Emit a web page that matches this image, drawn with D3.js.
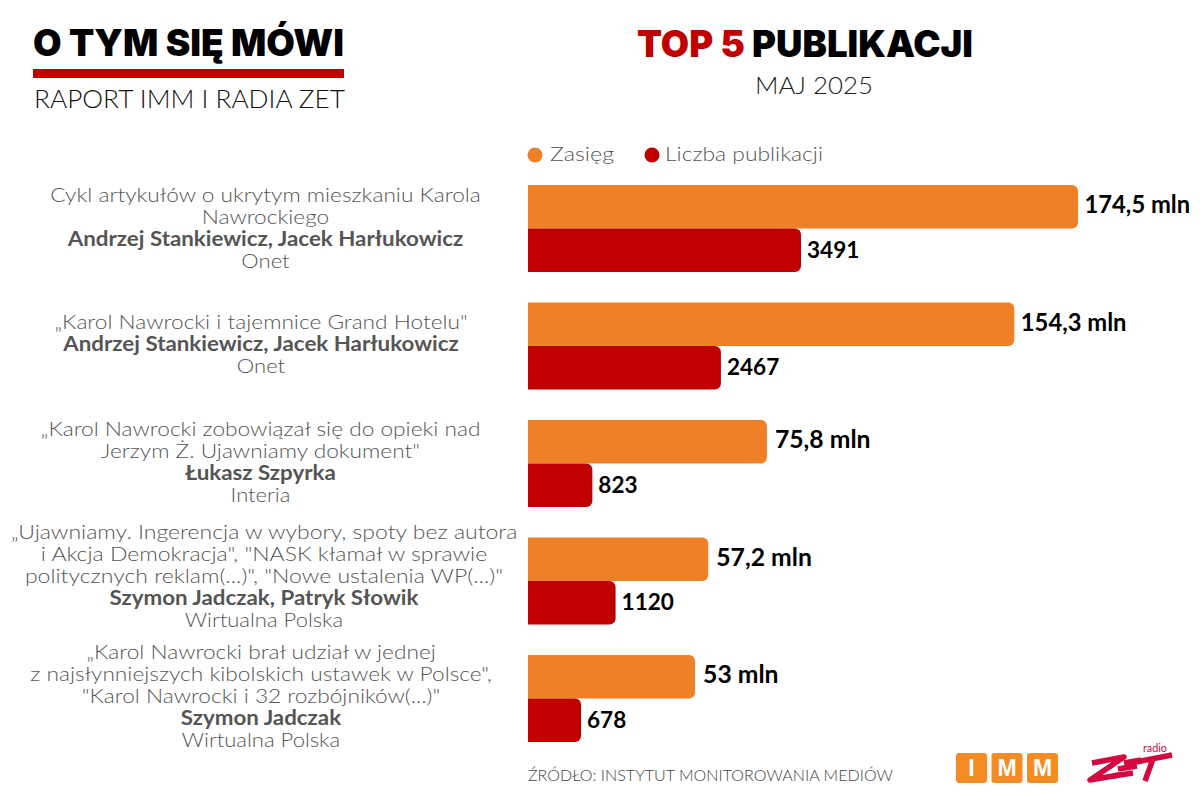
<!DOCTYPE html>
<html><head><meta charset="utf-8">
<script src="https://cdn.jsdelivr.net/npm/d3@7/dist/d3.min.js"></script>
<style>html,body{margin:0;background:#fff}svg{display:block}</style></head>
<body><svg id="c" width="1200" height="800"></svg>
<script>
const rankNames = ["1","2","3","4","5"];
const reachValues = [174.5,154.3,75.8,57.2,53];
const reachLabels = ["174,5 mln","154,3 mln","75,8 mln","57,2 mln","53 mln"];
const pubValues = [3491,2467,823,1120,678];
const pubLabels = ["3491","2467","823","1120","678"];
const titleLines = [
 ["Cykl artykułów o ukrytym mieszkaniu Karola","Nawrockiego"],
 ["„Karol Nawrocki i tajemnice Grand Hotelu\""],
 ["„Karol Nawrocki zobowiązał się do opieki nad","Jerzym Ż. Ujawniamy dokument\""],
 ["„Ujawniamy. Ingerencja w wybory, spoty bez autora","i Akcja Demokracja\", \"NASK kłamał w sprawie","politycznych reklam(...)\", \"Nowe ustalenia WP(...)\""],
 ["„Karol Nawrocki brał udział w jednej","z najsłynniejszych kibolskich ustawek w Polsce\",","\"Karol Nawrocki i 32 rozbójników(...)\""]
];
const authors = ["Andrzej Stankiewicz, Jacek Harłukowicz","Andrzej Stankiewicz, Jacek Harłukowicz","Łukasz Szpyrka","Szymon Jadczak, Patryk Słowik","Szymon Jadczak"];
const outlets = ["Onet","Onet","Interia","Wirtualna Polska","Wirtualna Polska"];
const legendNames = ["Zasięg","Liczba publikacji"];
const labelCx = [265.5,261,260.5,264,261];

const ORANGE="#ee8127", RED="#c00000", GREY="#555", BODY="Lato, sans-serif";
const svg=d3.select("#c");
const x0=528;
const xR=d3.scaleLinear().domain([0,174.5]).range([x0,1078]);
const xP=d3.scaleLinear().domain([0,3491]).range([x0,801]);
const y=d3.scaleBand().domain(rankNames).range([185,772.5]);
const barH=43.5, R=6;
function bar(x,yy,w,h){return `M${x},${yy}H${x+w-R}a${R},${R} 0 0 1 ${R},${R}V${yy+h-R}a${R},${R} 0 0 1 ${-R},${R}H${x}Z`;}

function t(x,yy,s,o){const e=svg.append("text").attr("x",x).attr("y",yy).text(s)
 .attr("font-family",o.f||BODY).attr("font-size",o.s).attr("font-weight",o.w||400).attr("fill",o.c||"#000").attr("text-anchor",o.a||"start");
 if(o.l)e.attr("textLength",o.l).attr("lengthAdjust","spacingAndGlyphs");
 if(o.k)e.attr("textLength",e.node().getComputedTextLength()*o.k).attr("lengthAdjust","spacingAndGlyphs");
 return e;}

// header
t(33,56,"O TYM SIĘ MÓWI",{f:"Inter, sans-serif",s:37,w:900,l:311});
svg.append("rect").attr("x",33).attr("y",69).attr("width",311).attr("height",9).attr("fill",RED);
t(34,108,"RAPORT IMM I RADIA ZET",{s:26,w:300,c:"#111",l:311});
const h=t(637,57,"",{f:"Inter, sans-serif",s:37,w:900,l:336});
h.append("tspan").attr("fill",RED).text("TOP 5 ");
h.append("tspan").text("PUBLIKACJI");
t(814,94,"MAJ 2025",{s:24,w:300,c:"#222",a:"middle",l:118});

// legend
const lx=[535,652], ltx=[550,665], ll=[64,158];
legendNames.forEach((n,i)=>{
 svg.append("circle").attr("cx",lx[i]).attr("cy",155).attr("r",7.5).attr("fill",i?RED:ORANGE);
 t(ltx[i],161,n,{s:20,w:300,c:"#555",l:ll[i]});
});

// rows
rankNames.forEach((r,i)=>{
 const top=y(r);
 svg.append("path").attr("d",bar(x0,top,xR(reachValues[i])-x0,barH)).attr("fill",ORANGE);
 svg.append("path").attr("d",bar(x0,top+barH,xP(pubValues[i])-x0,barH)).attr("fill",RED);
 t(xR(reachValues[i])+(i>1?8:6.5),top+28,reachLabels[i],{s:24,w:700,k:i>1?1.03:0.99});
 t(xP(pubValues[i])+6,top+barH+29,pubLabels[i],{s:23,w:700,k:0.98});
 const lines=titleLines[i].map(s=>[s,300,i===3?1.15:1.134]).concat([[authors[i],700,1.116],[outlets[i],300,1.1]]);
 const lh=22, n=lines.length;
 const cy=[228,344,462,576,696][i];
 lines.forEach((l,j)=>{
  t(labelCx[i],cy+(j-(n-1)/2)*lh+7,l[0],{s:20,w:l[1],c:GREY,a:"middle",k:l[2]});
 });
});

// footer
t(528,781,"ŹRÓDŁO: INSTYTUT MONITOROWANIA MEDIÓW",{s:15,w:300,c:"#444",l:365});
["I","M","M"].forEach((s,i)=>{
 const bx=956+i*35.5;
 svg.append("rect").attr("x",bx).attr("y",753).attr("width",31).attr("height",30).attr("rx",3).attr("fill","#f68b23");
 t(bx+15.5,776,s,{f:"Liberation Sans, sans-serif",s:23,w:700,c:"#fff",a:"middle"});
});
// radio ZET logo
const logo=svg.append("g").attr("fill","none").attr("stroke","#d4083f").attr("stroke-width",5.5).attr("stroke-linejoin","round");
["M1092,763L1124,757L1090,780L1119,775","M1124,763L1141,760M1118,769L1137,766M1113,776L1133,773","M1136,762L1172,755M1153,759L1145,781"]
 .forEach(d=>logo.append("path").attr("d",d));
t(1143,752,"radio",{s:11,w:400,c:"#d4083f",l:24});
</script></body></html>
